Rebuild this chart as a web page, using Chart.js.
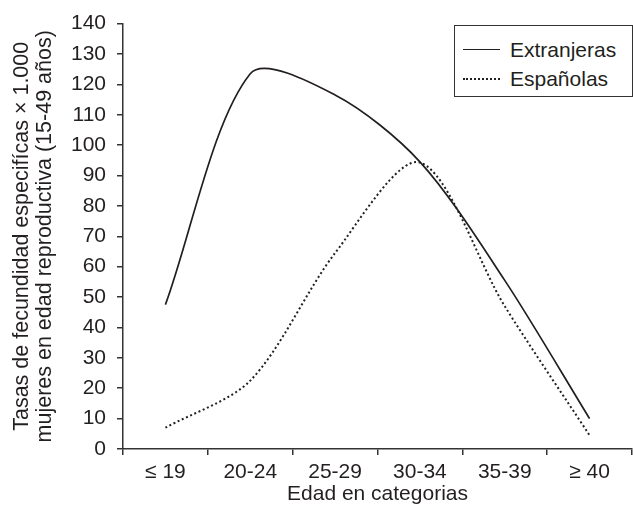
<!DOCTYPE html>
<html>
<head>
<meta charset="utf-8">
<script src="https://cdn.jsdelivr.net/npm/chart.js@4"></script>
<style>
  html, body { margin: 0; padding: 0; background: #fff; }
  #wrap { position: relative; width: 633px; height: 510px; }
  #legend {
    position: absolute; left: 454px; top: 25px; width: 177px; height: 70px;
    border: 1.5px solid #333; background: #fff;
    font-family: "Liberation Sans", Arial, sans-serif; font-size: 21px; color: #231f20;
  }
  .row { position: absolute; left: 0; height: 24px; width: 100%; }
  .sample { position: absolute; left: 8px; width: 37px; top: 11px; height: 0; }
  .txt { position: absolute; left: 55px; top: 0; line-height: 24px; white-space: nowrap; }
</style>
</head>
<body>
<div id="wrap">
  <canvas id="c" width="633" height="510"></canvas>
  <div id="legend">
    <div class="row" style="top:12px"><div class="sample" style="border-top:1.6px solid #231f20"></div><div class="txt">Extranjeras</div></div>
    <div class="row" style="top:41px"><div class="sample" style="border-top:2px dotted #231f20"></div><div class="txt">Españolas</div></div>
  </div>
</div>
<script>
const categories = ["\u2264 19", "20-24", "25-29", "30-34", "35-39", "\u2265 40"];
const extranjeras = [47.5, 123.5, 116.5, 94.5, 55.5, 10];
const espanolas = [7, 22.5, 64.5, 94.3, 47, 4.5];
const yTicks = [0, 10, 20, 30, 40, 50, 60, 70, 80, 90, 100, 110, 120, 130, 140];

const FONT = "'Liberation Sans', Arial, sans-serif";
const INK = "#231f20";
const toXY = arr => arr.map((v, i) => ({ x: i, y: v }));

new Chart(document.getElementById('c'), {
  type: 'line',
  data: {
    datasets: [
      { label: 'Extranjeras', data: toXY(extranjeras), borderColor: INK, borderWidth: 1.7,
        pointRadius: 0, tension: 0.3, fill: false },
      { label: 'Españolas', data: toXY(espanolas), borderColor: INK, borderWidth: 2,
        borderDash: [2, 2.6], pointRadius: 0, tension: 0.3, fill: false }
    ]
  },
  options: {
    responsive: false,
    animation: false,
    layout: { padding: { top: 21, right: 1, bottom: 0, left: 0 } },
    plugins: { legend: { display: false }, tooltip: { enabled: false } },
    scales: {
      x: {
        type: 'linear', min: -0.5, max: 5.5,
        afterBuildTicks: s => { s.ticks = categories.map((c, i) => ({ value: i })); },
        afterFit: s => { s.height = 61; },
        ticks: { callback: v => categories[v], font: { family: FONT, size: 21 }, color: INK, padding: 5, maxRotation: 0, autoSkip: false },
        grid: { offset: true, drawOnChartArea: false, drawTicks: true, tickLength: 6, color: '#333', lineWidth: 1.5 },
        border: { display: true, color: '#333', width: 1.5 },
        title: { display: true, text: 'Edad en categorias', font: { family: FONT, size: 21, lineHeight: 1.1 }, color: INK, padding: { top: 0, bottom: 4 } }
      },
      y: {
        min: 0, max: 140,
        afterBuildTicks: s => { s.ticks = yTicks.map(v => ({ value: v })); },
        afterFit: s => { s.width = 123; },
        ticks: { font: { family: FONT, size: 21 }, color: INK, padding: 11 },
        grid: { drawOnChartArea: false, drawTicks: true, tickLength: 6, color: '#333', lineWidth: 1.5 },
        border: { display: true, color: '#333', width: 1.5 },
        title: { display: true, text: ['Tasas de fecundidad especifícas \u00d7 1.000', 'mujeres en edad reproductiva (15-49 años)'],
          font: { family: FONT, size: 21.5, lineHeight: 1.1 }, color: INK, padding: { top: 10, bottom: 0 } }
      }
    }
  }
});
</script>
</body>
</html>
